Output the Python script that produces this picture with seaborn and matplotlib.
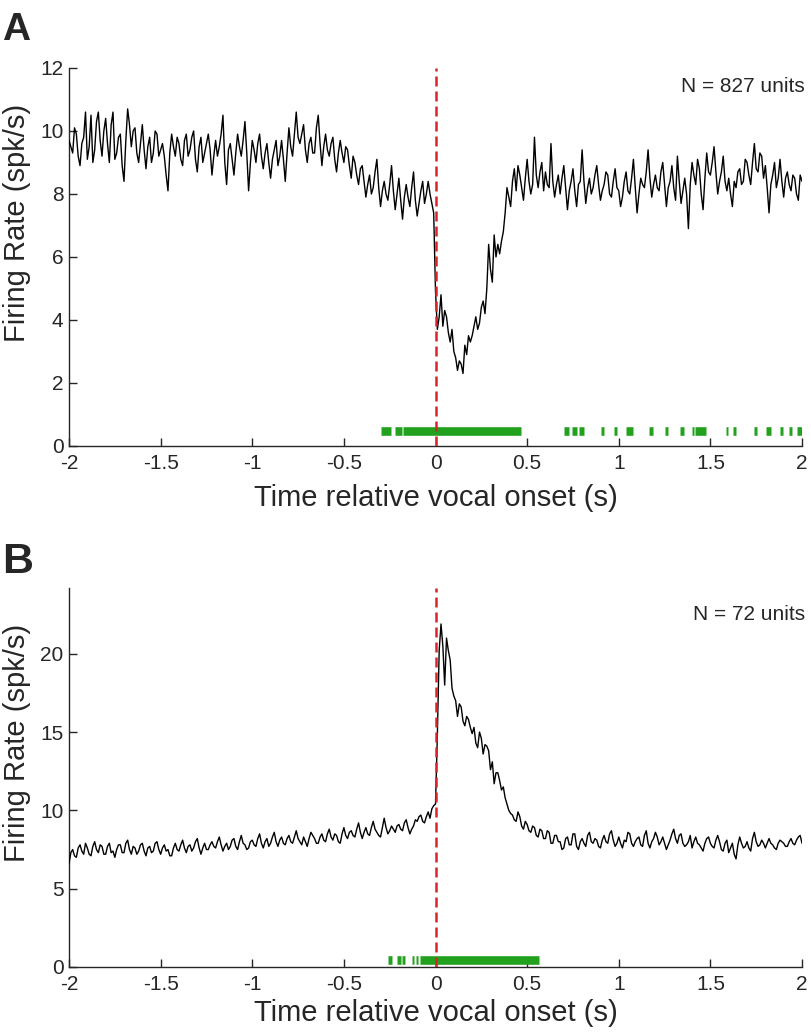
import numpy as np
import pandas as pd
import matplotlib
matplotlib.use("Agg")
import matplotlib.pyplot as plt
import seaborn as sns

# time axis, 10 ms bins from -2 to 2 s
time_s = np.round(np.linspace(-2.0, 2.0, 401), 2)

# panel A: mean firing rate of suppressed units (spk/s)
rate_a = [
    9.7, 9.5, 9.3, 10.1, 9.9, 9.2, 8.9, 9.6, 9.8, 10.6, 9.1, 9.5, 10.5, 9.0, 9.4, 10.3, 10.6, 9.7, 9.2, 10.0,
    10.4, 9.6, 9.0, 10.2, 10.6, 9.1, 9.3, 9.8, 9.9, 8.9, 8.4, 9.7, 10.7, 10.2, 9.5, 10.0, 10.1, 9.3, 9.0, 9.6,
    10.2, 9.4, 8.8, 9.5, 9.8, 9.0, 9.3, 10.0, 9.9, 9.2, 9.4, 9.6, 9.2, 8.6, 8.1, 9.3, 9.9, 9.5, 9.2, 9.8,
    9.6, 9.1, 8.9, 9.7, 9.9, 9.2, 9.4, 9.8, 10.0, 9.1, 8.7, 9.5, 9.8, 9.0, 9.3, 9.6, 9.9, 9.4, 8.6, 9.2,
    9.7, 9.2, 9.5, 9.9, 10.5, 9.0, 8.3, 9.4, 9.6, 9.1, 8.6, 9.3, 9.9, 9.5, 9.2, 9.7, 10.3, 9.3, 8.1, 9.0,
    9.7, 9.4, 9.0, 9.6, 9.9, 9.2, 8.8, 9.3, 9.6, 9.0, 8.5, 9.1, 9.4, 9.7, 8.9, 9.2, 9.7, 9.1, 8.4, 9.3,
    10.1, 9.5, 9.2, 9.9, 10.6, 9.8, 9.6, 9.9, 10.2, 9.4, 9.0, 9.6, 9.8, 9.3, 9.3, 10.1, 10.5, 9.6, 8.9, 9.5,
    9.9, 9.4, 9.2, 9.6, 9.8, 9.1, 8.7, 9.3, 9.7, 9.3, 9.0, 9.5, 9.4, 8.9, 8.5, 9.2, 9.0, 8.6, 8.3, 8.8,
    8.9, 8.4, 7.9, 8.3, 8.6, 8.0, 8.2, 8.7, 9.1, 8.2, 7.6, 8.1, 8.4, 8.0, 7.8, 8.3, 8.9, 8.1, 7.5, 8.0,
    8.5, 7.8, 7.2, 7.9, 8.3, 7.9, 7.6, 8.2, 8.7, 7.8, 7.3, 7.7, 8.1, 8.4, 7.7, 8.0, 8.4, 8.0, 7.7, 7.4,
    4.9, 3.7, 4.1, 4.8, 3.8, 4.3, 4.1, 3.6, 3.3, 3.7, 3.0, 2.8, 2.4, 2.7, 2.6, 2.3, 3.2, 2.9, 3.5, 3.3,
    3.5, 3.8, 4.1, 3.7, 3.9, 4.4, 4.6, 4.2, 5.0, 6.4, 5.6, 5.2, 6.7, 6.0, 6.4, 6.1, 6.5, 6.8, 7.4, 8.2,
    7.9, 7.6, 8.4, 8.8, 8.1, 8.9, 8.6, 8.2, 7.8, 8.5, 9.1, 8.4, 8.0, 8.3, 9.8, 8.6, 8.2, 8.7, 9.0, 8.1,
    8.7, 8.3, 8.2, 9.6, 8.4, 7.9, 8.3, 8.6, 8.0, 8.5, 8.9, 8.2, 7.5, 8.1, 8.4, 8.8, 8.1, 7.6, 8.3, 8.4,
    9.4, 8.4, 7.7, 8.2, 8.5, 8.0, 8.2, 8.6, 8.9, 8.3, 7.8, 8.1, 8.3, 8.7, 8.6, 8.0, 7.9, 8.4, 8.8, 8.2,
    8.1, 7.6, 7.9, 8.4, 8.7, 8.1, 8.0, 8.5, 9.1, 8.2, 7.4, 8.0, 8.5, 8.3, 8.2, 8.7, 9.4, 8.5, 7.9, 8.3,
    8.6, 8.2, 8.1, 8.7, 9.0, 8.3, 7.6, 8.2, 8.4, 8.9, 8.2, 7.8, 9.2, 8.4, 7.7, 8.1, 8.5, 8.0, 6.9, 8.3,
    9.0, 8.6, 8.3, 9.1, 8.8, 8.0, 7.5, 8.5, 9.3, 8.7, 8.6, 9.0, 9.5, 8.7, 8.0, 8.4, 8.7, 9.2, 8.4, 8.1,
    8.5, 8.0, 7.6, 8.4, 8.2, 8.7, 8.8, 8.3, 8.4, 9.1, 9.0, 8.6, 8.3, 9.0, 9.6, 8.8, 8.7, 9.3, 9.2, 8.5,
    8.9, 8.2, 7.4, 8.3, 8.6, 9.0, 8.2, 8.5, 9.1, 8.4, 7.9, 8.5, 8.7, 8.3, 8.1, 8.6, 8.5, 8.0, 7.8, 8.6,
    8.4,
]

# panel B: mean firing rate of excited units (spk/s)
rate_b = [
    6.6, 7.3, 7.5, 7.1, 7.0, 7.6, 7.8, 7.4, 7.2, 7.9, 7.6, 7.2, 7.1, 7.7, 8.0, 7.5, 7.3, 7.8, 7.7, 7.2,
    7.2, 7.7, 7.9, 7.3, 7.4, 7.0, 7.5, 7.8, 7.8, 7.3, 7.3, 7.9, 8.1, 7.5, 7.2, 7.7, 7.6, 7.2, 7.4, 7.8,
    7.9, 7.4, 7.1, 7.6, 7.7, 7.3, 7.4, 7.9, 8.0, 7.5, 7.2, 7.6, 7.8, 7.4, 7.5, 7.1, 7.1, 7.6, 7.9, 7.5,
    7.4, 7.8, 8.1, 7.6, 7.3, 7.7, 7.8, 7.4, 7.6, 8.0, 8.2, 7.6, 7.2, 7.6, 7.9, 7.5, 7.5, 7.8, 8.0, 7.7,
    7.6, 8.0, 8.3, 7.8, 7.4, 7.7, 7.9, 7.5, 7.7, 8.1, 8.2, 7.7, 7.5, 8.0, 8.4, 7.9, 7.8, 7.5, 7.6, 8.0,
    8.1, 7.8, 7.7, 8.2, 8.5, 7.9, 7.6, 8.0, 8.2, 7.7, 7.9, 8.3, 8.6, 8.0, 7.7, 8.1, 8.3, 7.9, 7.8, 8.2,
    8.4, 8.0, 7.9, 8.3, 8.7, 8.2, 8.0, 7.8, 8.3, 8.0, 7.7, 8.2, 8.6, 8.4, 8.2, 7.9, 7.9, 8.3, 8.5, 8.1,
    8.0, 8.5, 8.8, 8.3, 8.1, 8.5, 8.4, 8.0, 7.9, 8.5, 8.9, 8.4, 8.2, 8.6, 8.7, 8.4, 8.3, 8.8, 9.2, 8.6,
    8.2, 8.6, 8.9, 8.5, 8.4, 8.9, 9.3, 8.8, 8.6, 8.4, 8.3, 8.9, 9.5, 8.9, 8.5, 8.7, 9.0, 8.8, 8.6, 9.0,
    9.1, 8.8, 8.7, 9.2, 9.4, 8.9, 8.5, 8.8, 9.0, 9.4, 9.3, 9.6, 9.7, 9.3, 9.2, 9.6, 9.9, 9.5, 10.1, 10.3,
    10.4, 14.8, 20.2, 21.9, 20.5, 18.0, 21.0, 20.2, 19.6, 17.8, 17.3, 17.0, 16.0, 16.8, 16.6, 15.7, 15.4, 16.0, 15.8, 15.3,
    14.9, 15.3, 14.3, 14.0, 15.0, 14.6, 13.6, 14.2, 14.1, 13.8, 12.6, 13.1, 11.7, 12.4, 12.4, 11.9, 11.3, 11.5, 10.8, 10.4,
    10.0, 9.8, 9.7, 9.4, 9.3, 9.9, 9.6, 9.0, 8.8, 9.3, 9.1, 8.7, 8.6, 9.0, 8.9, 8.4, 8.3, 8.8, 8.7, 8.2,
    8.2, 8.7, 8.6, 7.9, 7.9, 8.4, 8.4, 8.0, 8.0, 7.5, 7.6, 8.2, 8.3, 7.8, 7.8, 8.5, 8.5, 7.7, 7.5, 8.0,
    8.2, 7.9, 7.7, 8.4, 8.6, 8.0, 7.9, 8.2, 8.1, 7.7, 7.6, 8.1, 8.4, 8.0, 7.9, 8.5, 8.7, 8.1, 7.7, 7.9,
    8.3, 7.9, 7.6, 8.1, 8.0, 8.6, 8.5, 7.9, 7.7, 8.0, 8.2, 8.3, 7.8, 7.7, 8.4, 8.7, 7.9, 7.6, 8.0, 8.2,
    8.6, 8.3, 7.8, 8.0, 8.3, 7.9, 7.5, 7.8, 8.1, 8.5, 8.8, 8.2, 7.9, 8.4, 8.5, 7.9, 7.7, 7.8, 8.0, 8.4,
    7.6, 8.0, 8.3, 7.9, 7.8, 7.6, 7.4, 7.9, 8.2, 8.3, 7.9, 7.7, 7.6, 8.1, 8.4, 8.0, 7.5, 7.4, 7.9, 8.1,
    7.3, 7.6, 7.9, 7.2, 6.9, 7.8, 8.3, 7.9, 7.6, 7.7, 8.0, 7.6, 7.4, 8.2, 8.6, 8.0, 7.7, 7.8, 8.1, 7.9,
    7.6, 7.9, 8.2, 7.9, 7.8, 7.6, 7.5, 7.9, 8.1, 8.0, 7.9, 7.7, 7.7, 8.0, 8.2, 7.9, 7.8, 8.1, 8.3, 8.4,
    7.9,
]

# significant bins (green markers), start / end in s
sig_a_start = [-0.300, -0.222, -0.175, 0.702, 0.745, 0.783, 0.903, 0.976, 1.037,
               1.164, 1.254, 1.333, 1.398, 1.418, 1.584, 1.624, 1.738, 1.802,
               1.878, 1.927, 1.973]
sig_a_end = [-0.245, -0.182, 0.465, 0.729, 0.772, 0.811, 0.918, 0.989, 1.075,
             1.189, 1.271, 1.356, 1.409, 1.476, 1.595, 1.640, 1.756, 1.833,
             1.897, 1.945, 2.000]
sig_b_start = [-0.260, -0.209, -0.182, -0.129, -0.107, -0.082]
sig_b_end = [-0.237, -0.191, -0.164, -0.115, -0.093, 0.565]

xticks_vals = [-2, -1.5, -1, -0.5, 0, 0.5, 1, 1.5, 2]
xtick_labels = ["-2", "-1.5", "-1", "-0.5", "0", "0.5", "1", "1.5", "2"]
yticks_a = [0, 2, 4, 6, 8, 10, 12]
yticks_b = [0, 5, 10, 15, 20]

sns.set_style("ticks")
plt.rcParams["font.family"] = ["Liberation Sans", "DejaVu Sans"]
plt.rcParams["xtick.direction"] = "in"
plt.rcParams["ytick.direction"] = "in"

df_a = pd.DataFrame({"t": time_s, "rate": rate_a})
df_b = pd.DataFrame({"t": time_s, "rate": rate_b})

fig = plt.figure(figsize=(8.12, 10.33), dpi=100)
ax_a = fig.add_axes([0.085, 0.5683, 0.9027, 0.3659])
ax_b = fig.add_axes([0.085, 0.0639, 0.9027, 0.3669])

panels = [
    (ax_a, df_a, sig_a_start, sig_a_end, (0, 12), yticks_a, "N = 827 units", 0.9365, -0.100),
    (ax_b, df_b, sig_b_start, sig_b_end, (0, 24.2), yticks_b, "N = 72 units", 0.9156, -0.084),
]

for ax, df, s0, s1, ylim, yt, ntxt, ny, xl_y in panels:
    ax.hlines([0.47] * len(s0), s0, s1, colors="#22a11e", linewidth=6.2,
              capstyle="butt", zorder=2)
    sns.lineplot(x="t", y="rate", data=df, ax=ax, color="black", linewidth=1.0,
                 estimator=None, sort=False, zorder=3)
    ax.axvline(0, color="#d7262b", linewidth=1.8, dashes=(4, 2), zorder=4)
    ax.set_xlim(-2, 2)
    ax.set_ylim(*ylim)
    ax.set_xticks(xticks_vals)
    ax.set_xticklabels(xtick_labels)
    ax.set_yticks(yt)
    ax.set_yticklabels([str(v) for v in yt])
    ax.tick_params(axis="x", labelsize=15, length=6, width=1, pad=6)
    ax.tick_params(axis="y", labelsize=15, length=6, width=1, pad=4)
    for side in ["top", "right"]:
        ax.spines[side].set_visible(False)
    for side in ["left", "bottom"]:
        ax.spines[side].set_linewidth(1)
    ax.set_xlabel("Time relative vocal onset (s)", fontsize=21)
    ax.set_ylabel("Firing Rate (spk/s)", fontsize=21)
    ax.xaxis.set_label_coords(0.5, xl_y)
    ax.xaxis.label.set_va("top")
    ax.yaxis.set_label_coords(-0.071, 0.59)
    ax.yaxis.label.set_va("center")
    ax.text(1.004, ny, ntxt, transform=ax.transAxes, ha="right", va="baseline",
            fontsize=15)

fig.text(0.003, 0.9613, "A", fontsize=28, fontweight="bold", va="baseline")
fig.text(0.003, 0.4453, "B", fontsize=31, fontweight="bold", va="baseline")

fig.savefig("out.png", dpi=100)
